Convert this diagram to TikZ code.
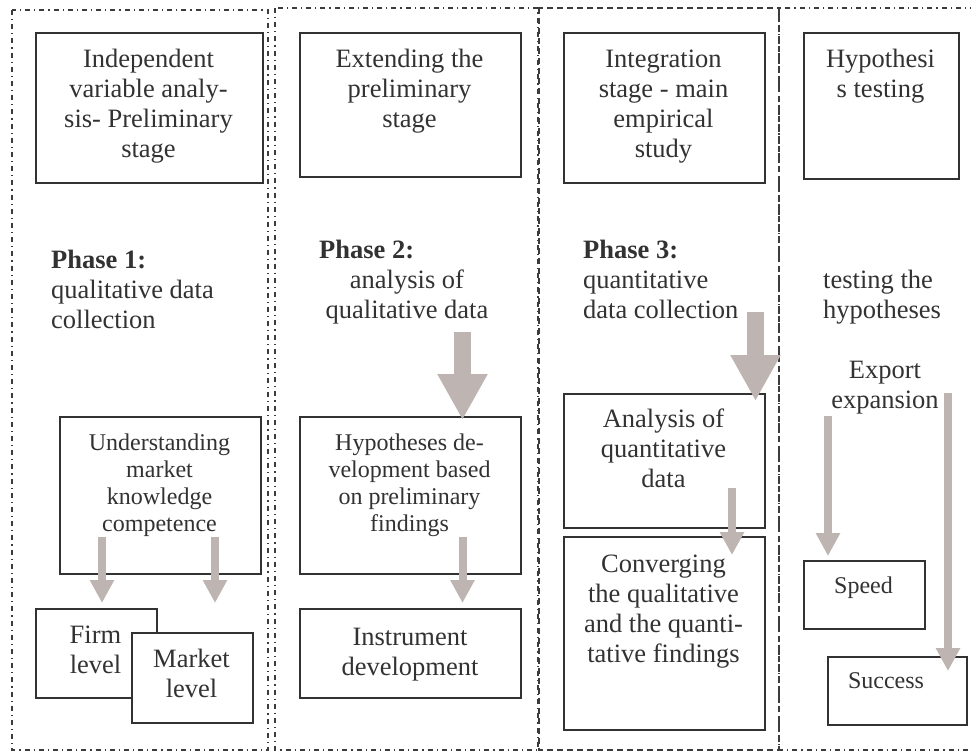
\documentclass[tikz,border=0pt]{standalone}
\usepackage{fontspec}
\setmainfont{Liberation Serif}
\usetikzlibrary{arrows.meta}
\definecolor{ink}{RGB}{50,50,50}
\definecolor{frameink}{RGB}{60,60,60}
\definecolor{arrowfill}{RGB}{190,181,178}
% multi-line text nodes are placed by the baseline of their last line
\tikzset{
  framedd/.style={draw=frameink, line width=1.1pt, dash pattern=on 5pt off 4pt on 1.2pt off 4pt},
  framedash/.style={draw=frameink, line width=1.1pt, dash pattern=on 6pt off 4pt},
  box/.style={draw=ink, line width=1.6pt, fill=white, inner sep=0pt, anchor=north west},
  bigtxt/.style={text=ink, font=\fontsize{26.5}{30}\selectfont, align=center, inner sep=0pt, anchor=base},
  smalltxt/.style={text=ink, font=\fontsize{24}{27}\selectfont, align=center, inner sep=0pt, anchor=base},
  lefttxt/.style={text=ink, font=\fontsize{26.5}{30}\selectfont, align=left, inner sep=0pt, anchor=base west},
  thinarrow/.style={draw=arrowfill, line width=8pt, -{Triangle[width=23pt,length=23pt]}},
  widearrow/.style={draw=arrowfill, line width=16.5pt, -{Triangle[width=47pt,length=46pt]}},
}
\begin{document}
\begin{tikzpicture}[x=1pt, y=-1pt]
\useasboundingbox (0,0) rectangle (971,752);

% column frames
\draw[framedd] (12,10) rectangle (268,750);
\draw[framedd] (275,8) rectangle (538,750);
\draw[framedash] (539,8) rectangle (779,750);
\draw[framedd] (975,8) -- (779,8) -- (779,750) -- (975,750);

% stage headers
\node[box, minimum width=227pt, minimum height=150pt] (h1) at (35,32) {};
\node[box, minimum width=221pt, minimum height=144pt] (h2) at (299,32) {};
\node[box, minimum width=201pt, minimum height=150pt] (h3) at (563,32) {};
\node[box, minimum width=155pt, minimum height=146pt] (h4) at (803,32) {};
\node[bigtxt] (h1t) at (148.5,157) {Independent\\variable analy-\\sis- Preliminary\\stage};
\node[bigtxt] (h2t) at (409.5,127) {Extending the\\preliminary\\stage};
\node[bigtxt] (h3t) at (663.5,157) {Integration\\stage - main\\empirical\\study};
\node[bigtxt] (h4t) at (880.5,97) {Hypothesi\\s testing};

% phase descriptions
\node[lefttxt] (p1) at (51,328) {\textbf{Phase 1:}\\qualitative data\\collection};
\node[lefttxt] (p2) at (319,258) {\textbf{Phase 2:}};
\node[bigtxt] (p2t) at (407,318) {analysis of\\qualitative data};
\node[lefttxt] (p3) at (583,318) {\textbf{Phase 3:}\\quantitative\\data collection};
\node[lefttxt] (p4) at (823,318) {testing the\\hypotheses};
\node[bigtxt] (exp) at (885,408) {Export\\expansion};

% column 1
\node[box, minimum width=201pt, minimum height=157pt] (und) at (59,416) {};
\node[smalltxt] (undt) at (159.5,531) {Understanding\\market\\knowledge\\competence};
\node[box, minimum width=121pt, minimum height=89pt] (firm) at (35,608) {};
\node[bigtxt] (firmt) at (95.5,673) {Firm\\level};
\node[box, minimum width=121pt, minimum height=90pt] (mkt) at (131,632) {};
\node[bigtxt] (mktt) at (191.5,697) {Market\\level};
\coordinate (a1s) at (102,537); \coordinate (a1e) at (102,603);
\coordinate (a2s) at (215,537); \coordinate (a2e) at (215,603);
\draw[thinarrow] (a1s) -- (a1e);
\draw[thinarrow] (a2s) -- (a2e);

% column 2
\node[box, minimum width=221pt, minimum height=157pt] (hyp) at (299,416) {};
\node[smalltxt] (hypt) at (409.5,531) {Hypotheses de-\\velopment based\\on preliminary\\findings};
\node[box, minimum width=221pt, minimum height=89pt] (ins) at (299,608) {};
\node[bigtxt] (inst) at (410,675) {Instrument\\development};
\coordinate (b1s) at (462.5,332); \coordinate (b1e) at (462.5,420);
\draw[widearrow] (b1s) -- (b1e);
\coordinate (b2s) at (462.5,537); \coordinate (b2e) at (462.5,603);
\draw[thinarrow] (b2s) -- (b2e);

% column 3
\node[box, minimum width=201pt, minimum height=134pt] (ana) at (563,393) {};
\node[bigtxt] (anat) at (663.5,487) {Analysis of\\quantitative\\data};
\node[box, minimum width=201pt, minimum height=193pt] (conv) at (563,536) {};
\node[bigtxt] (convt) at (663.5,662) {Converging\\the qualitative\\and the quanti-\\tative findings};
\coordinate (c1s) at (755.5,312); \coordinate (c1e) at (755.5,401);
\draw[widearrow] (c1s) -- (c1e);
\coordinate (c2s) at (732,488); \coordinate (c2e) at (732,555);
\draw[thinarrow] (c2s) -- (c2e);

% column 4
\node[box, minimum width=121pt, minimum height=68pt] (spd) at (803,560) {};
\node[smalltxt] (spdt) at (863.5,593) {Speed};
\node[box, minimum width=139pt, minimum height=68pt] (suc) at (827,656) {};
\node[smalltxt] (suct) at (886,688) {Success};
\coordinate (d1s) at (828,416); \coordinate (d1e) at (828,556);
\draw[thinarrow] (d1s) -- (d1e);
\coordinate (d2s) at (948,393); \coordinate (d2e) at (948,671);
\draw[thinarrow] (d2s) -- (d2e);
\end{tikzpicture}
\end{document}
